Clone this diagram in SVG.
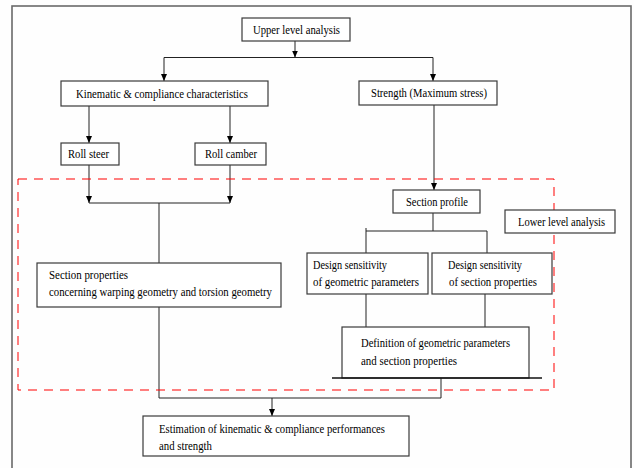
<svg xmlns="http://www.w3.org/2000/svg" width="634" height="468" viewBox="0 0 634 468">
<defs>
<marker id="arr" viewBox="0 0 7 6" refX="7" refY="3" markerWidth="7" markerHeight="6" markerUnits="userSpaceOnUse" orient="auto">
<path d="M0,0 L7,3 L0,6 Z" fill="#000"/>
</marker>
<style>
.box{fill:#fff;stroke:#3a3a3a;stroke-width:1.2}
.t{font-family:"Liberation Serif","DejaVu Serif","Times New Roman",serif;font-size:12px;fill:#000}
.ln{fill:none;stroke:#222;stroke-width:1}
.ar{fill:none;stroke:#222;stroke-width:1;marker-end:url(#arr)}
</style>
</defs>
<rect x="0" y="0" width="634" height="468" fill="#fefefe"/>
<rect x="12" y="6" width="619" height="470" fill="none" stroke="#6a6a6a" stroke-width="1.6"/>

<g id="connectors">
<line class="ar" x1="295" y1="41" x2="295" y2="57.5"/>
<polyline class="ln" points="164,57.5 433,57.5"/>
<line class="ar" x1="164" y1="57.5" x2="164" y2="81"/>
<line class="ar" x1="433" y1="57.5" x2="433" y2="81"/>
<line class="ar" x1="89" y1="106" x2="89" y2="143"/>
<line class="ar" x1="230" y1="106" x2="230" y2="143"/>
<line class="ar" x1="89" y1="165" x2="89" y2="203"/>
<line class="ar" x1="230" y1="165" x2="230" y2="203"/>
<polyline class="ln" points="89,203 230,203"/>
<line class="ln" x1="159" y1="203" x2="159" y2="263"/>
<line class="ar" x1="434" y1="105" x2="434" y2="190"/>
<line class="ln" x1="433" y1="213" x2="433" y2="231"/>
<polyline class="ln" points="366,228 366,231 487,231 487,253"/>
<line class="ln" x1="366" y1="231" x2="366" y2="253"/>
<line class="ln" x1="366" y1="294" x2="366" y2="327"/>
<line class="ln" x1="485" y1="294" x2="485" y2="327"/>
<polyline class="ln" points="159,307 159,398 441,398 441,378"/>
<line class="ar" x1="272" y1="398" x2="272" y2="416"/>
</g>

<rect x="18" y="179" width="536" height="211" fill="none" stroke="#ff0000" stroke-width="1" stroke-dasharray="9,7"/>

<g id="upper">
<rect class="box" x="242" y="18" width="108" height="23"/>
<text class="t" font-family="Liberation Serif, serif" x="253" y="33.5" textLength="87" lengthAdjust="spacingAndGlyphs">Upper level analysis</text>
</g>
<g id="kinematic">
<rect class="box" x="61" y="81" width="207" height="25"/>
<text class="t" x="76" y="98" textLength="172" lengthAdjust="spacingAndGlyphs">Kinematic &amp; compliance characteristics</text>
</g>
<g id="strength">
<rect class="box" x="359" y="81" width="138" height="24"/>
<text class="t" x="371" y="97" textLength="116" lengthAdjust="spacingAndGlyphs">Strength (Maximum stress)</text>
</g>
<g id="rollsteer">
<rect class="box" x="61" y="143" width="58" height="22"/>
<text class="t" x="68" y="158" textLength="41" lengthAdjust="spacingAndGlyphs">Roll steer</text>
</g>
<g id="rollcamber">
<rect class="box" x="195" y="143" width="71" height="22"/>
<text class="t" x="205" y="158" textLength="52" lengthAdjust="spacingAndGlyphs">Roll camber</text>
</g>
<g id="sectionprops">
<rect class="box" x="37" y="263" width="244" height="44"/>
<text class="t" x="49" y="279" textLength="79" lengthAdjust="spacingAndGlyphs">Section properties</text>
<text class="t" x="49" y="296" textLength="223" lengthAdjust="spacingAndGlyphs">concerning warping geometry and torsion geometry</text>
</g>
<g id="sectionprofile">
<rect class="box" x="393" y="190" width="87" height="23"/>
<text class="t" x="406" y="206" textLength="62" lengthAdjust="spacingAndGlyphs">Section profile</text>
</g>
<g id="lowerlevel">
<rect class="box" x="505" y="210" width="110" height="23"/>
<text class="t" x="518" y="226" textLength="87" lengthAdjust="spacingAndGlyphs">Lower level analysis</text>
</g>
<g id="dsgeom">
<rect class="box" x="307" y="253" width="121" height="41"/>
<text class="t" x="313" y="269" textLength="74" lengthAdjust="spacingAndGlyphs">Design sensitivity</text>
<text class="t" x="313" y="286" textLength="106" lengthAdjust="spacingAndGlyphs">of geometric parameters</text>
</g>
<g id="dssection">
<rect class="box" x="432" y="253" width="120" height="41"/>
<text class="t" x="448" y="269" textLength="74" lengthAdjust="spacingAndGlyphs">Design sensitivity</text>
<text class="t" x="449" y="286" textLength="88" lengthAdjust="spacingAndGlyphs">of section properties</text>
</g>
<g id="definition">
<rect class="box" x="342" y="327" width="187" height="51"/>
<line x1="332" y1="378" x2="542" y2="378" stroke="#111" stroke-width="1.3"/>
<text class="t" x="361" y="347" textLength="149" lengthAdjust="spacingAndGlyphs">Definition of geometric parameters</text>
<text class="t" x="361" y="365" textLength="96" lengthAdjust="spacingAndGlyphs">and section properties</text>
</g>
<g id="estimation">
<rect class="box" x="143" y="416" width="266" height="40"/>
<text class="t" x="159" y="433" textLength="226" lengthAdjust="spacingAndGlyphs">Estimation of kinematic &amp; compliance performances</text>
<text class="t" x="159" y="450" textLength="53" lengthAdjust="spacingAndGlyphs">and strength</text>
</g>
</svg>
